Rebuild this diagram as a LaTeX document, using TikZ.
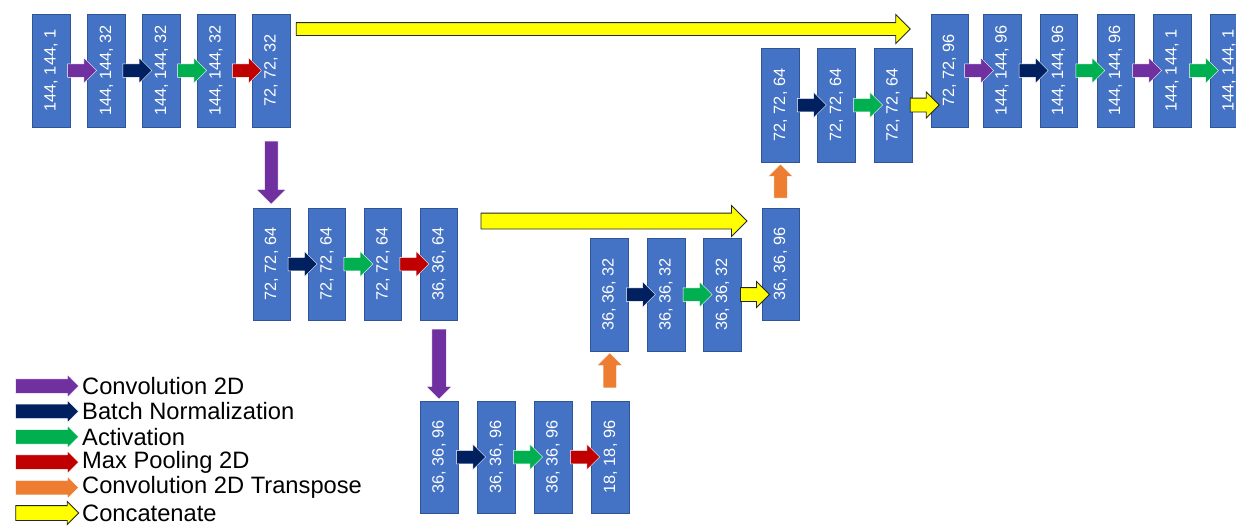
\documentclass[tikz,border=0pt]{standalone}
\usepackage{fontspec}
\setmainfont{Liberation Sans}
\usetikzlibrary{shapes.arrows,calc}
\definecolor{boxblue}{HTML}{4472C4}
\definecolor{boxedge}{HTML}{2F5597}
\definecolor{cpurple}{HTML}{7030A0}
\definecolor{cnavy}{HTML}{002060}
\definecolor{cgreen}{HTML}{00B050}
\definecolor{cred}{HTML}{C00000}
\definecolor{corange}{HTML}{ED7D31}
\definecolor{cyellow}{HTML}{FFFF00}
\newcommand\myboxfont{\fontsize{16.3}{16.3}\selectfont}
\newcommand\mylegfont{\fontsize{23.7}{23.7}\selectfont}
\begin{document}
\begin{tikzpicture}[x=1pt,y=-1pt,
  blk/.style={rectangle, fill=boxblue, draw=boxedge, line width=0.5pt, rotate=90,
    minimum width=113pt, minimum height=38pt, inner sep=0pt, text=white, font=\myboxfont},
  sarr/.style={single arrow, inner xsep=0pt, inner ysep=6.5pt, single arrow head extend=6pt,
    single arrow tip angle=90, minimum height=29pt, draw=white, line width=0.5pt},
  yarr/.style={sarr, fill=cyellow, draw=black!85, line width=0.9pt},
  legarr/.style={single arrow, inner xsep=0pt, inner ysep=7pt, single arrow head extend=4pt,
    single arrow tip angle=90, minimum height=63pt, draw=white, line width=0.5pt},
  legtxt/.style={anchor=west, inner sep=0pt, font=\mylegfont, text=black}
]
\useasboundingbox (0,0) rectangle (1236,525);
\clip (0,0) rectangle (1236,525);
\fill[white] (0,0) rectangle (1236,525);

% top-left row
\node[blk] (T1) at (51,70.5) {144, 144, 1};
\node[blk] (T2) at (106.5,70.5) {144, 144, 32};
\node[blk] (T3) at (161.5,70.5) {144, 144, 32};
\node[blk] (T4) at (216,70.5) {144, 144, 32};
\node[blk] (T5) at (271,70.5) {72, 72, 32};
\node[sarr,fill=cpurple] (a1) at ($(T1.center)!0.5!(T2.center)$) {};
\node[sarr,fill=cnavy] (a2) at ($(T2.center)!0.5!(T3.center)$) {};
\node[sarr,fill=cgreen] (a3) at ($(T3.center)!0.5!(T4.center)$) {};
\node[sarr,fill=cred] (a4) at ($(T4.center)!0.5!(T5.center)$) {};

% middle row
\node[blk,minimum width=112pt,minimum height=37pt] (M1) at (271.5,264) {72, 72, 64};
\node[blk,minimum width=112pt,minimum height=37pt] (M2) at (327,264) {72, 72, 64};
\node[blk,minimum width=112pt,minimum height=37pt] (M3) at (383,264) {72, 72, 64};
\node[blk,minimum width=112pt,minimum height=37pt] (M4) at (439,264) {36, 36, 64};
\node[sarr,fill=cnavy] (a5) at ($(M1.center)!0.5!(M2.center)$) {};
\node[sarr,fill=cgreen] (a6) at ($(M2.center)!0.5!(M3.center)$) {};
\node[sarr,fill=cred] (a7) at ($(M3.center)!0.5!(M4.center)$) {};

% bottom row
\node[blk,minimum width=112pt] (B1) at (439,457) {36, 36, 96};
\node[blk,minimum width=112pt] (B2) at (496.5,457) {36, 36, 96};
\node[blk,minimum width=112pt] (B3) at (553,457) {36, 36, 96};
\node[blk,minimum width=112pt] (B4) at (610.5,457) {18, 18, 96};
\node[sarr,fill=cnavy] (a8) at ($(B1.center)!0.5!(B2.center)$) {};
\node[sarr,fill=cgreen] (a9) at ($(B2.center)!0.5!(B3.center)$) {};
\node[sarr,fill=cred] (a10) at ($(B3.center)!0.5!(B4.center)$) {};

% up row 36,36,32
\node[blk] (U1) at (609,294.5) {36, 36, 32};
\node[blk] (U2) at (666,294.5) {36, 36, 32};
\node[blk] (U3) at (722.5,294.5) {36, 36, 32};
\node[blk,minimum width=112pt,minimum height=37pt] (V) at (780.5,264) {36, 36, 96};
\node[sarr,fill=cnavy] (a11) at ($(U1.center)!0.5!(U2.center)$) {};
\node[sarr,fill=cgreen] (a12) at ($(U2.center)!0.5!(U3.center)$) {};
\node[yarr] (a13) at ($(U3.center)!0.5!(U3.center -| V.center)$) {};

% row 72,72,64
\node[blk,minimum width=114pt] (W1) at (780.5,105) {72, 72, 64};
\node[blk,minimum width=114pt] (W2) at (836.5,105) {72, 72, 64};
\node[blk,minimum width=114pt] (W3) at (893,105) {72, 72, 64};
\node[sarr,fill=cnavy] (a14) at ($(W1.center)!0.5!(W2.center)$) {};
\node[sarr,fill=cgreen] (a15) at ($(W2.center)!0.5!(W3.center)$) {};

% top-right row
\node[blk,minimum height=37pt] (X1) at (949.5,70.5) {72, 72, 96};
\node[blk] (X2) at (1002,70.5) {144, 144, 96};
\node[blk,minimum height=37pt] (X3) at (1058.5,70.5) {144, 144, 96};
\node[blk,minimum height=37pt] (X4) at (1115.5,70.5) {144, 144, 96};
\node[blk] (X5) at (1172,70.5) {144, 144, 1};
\node[blk] (X6) at (1229,70.5) {144, 144, 1};
\node[yarr] (a16) at ($(W3.center)!0.5!(W3.center -| X1.center)$) {};
\node[sarr,fill=cpurple] (a17) at ($(X1.center)!0.5!(X2.center)$) {};
\node[sarr,fill=cnavy] (a18) at ($(X2.center)!0.5!(X3.center)$) {};
\node[sarr,fill=cgreen] (a19) at ($(X3.center)!0.5!(X4.center)$) {};
\node[sarr,fill=cpurple] (a20) at ($(X4.center)!0.5!(X5.center)$) {};
\node[sarr,fill=cgreen] (a21) at ($(X5.center)!0.5!(X6.center)$) {};

% vertical arrows
\node[sarr,fill=cpurple,rotate=-90,minimum height=63pt,single arrow head extend=8pt] (d1)
  at ($(T5.center)!0.5!(M1.center)+(0,2)$) {};
\node[sarr,fill=cpurple,rotate=-90,minimum height=70pt,inner ysep=7pt,single arrow head extend=5.5pt] (d2)
  at ($(M4.center)!0.5!(B1.center)$) {};
\node[sarr,fill=corange,rotate=90,minimum height=35pt,single arrow head extend=6pt] (u1)
  at ($(B4.center)!0.5!(U1.center)+(0,-2)$) {};
\node[sarr,fill=corange,rotate=90,minimum height=34pt,single arrow head extend=5.5pt] (u2)
  at ($(V.center)!0.5!(W1.center)$) {};

% long concatenation arrows
\node[yarr,minimum height=614pt,inner ysep=6pt,single arrow head extend=8pt] (c1) at (600,29) {};
\node[yarr,minimum height=266pt,inner ysep=7.5pt,single arrow head extend=7.5pt] (c2) at (610,221) {};

% legend
\node[legarr,fill=cpurple] (l1) at (43.5,386) {};
\node[legarr,fill=cnavy] (l2) at (43.5,411.4) {};
\node[legarr,fill=cgreen] (l3) at (43.5,436.8) {};
\node[legarr,fill=cred] (l4) at (43.5,462.2) {};
\node[legarr,fill=corange] (l5) at (43.5,487.6) {};
\node[legarr,fill=cyellow,draw=black!85,line width=0.9pt] (l6) at (43.5,513) {};
\node[legtxt] (t1) at (82,386) {Convolution 2D};
\node[legtxt] (t2) at (82,411.4) {Batch Normalization};
\node[legtxt] (t3) at (82,436.8) {Activation};
\node[legtxt] (t4) at (82,462.2) {Max Pooling 2D};
\node[legtxt] (t5) at (82,487.6) {Convolution 2D Transpose};
\node[legtxt] (t6) at (82,513) {Concatenate};
\end{tikzpicture}
\end{document}
